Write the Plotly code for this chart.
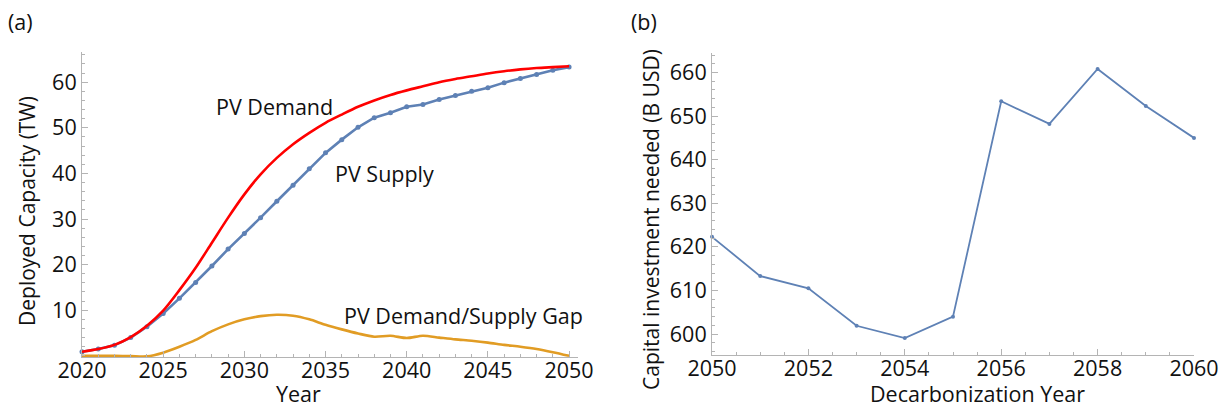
import plotly.graph_objects as go

# ---- Panel (a): PV deployment, 2020-2050 ----
years_a = list(range(2020, 2051))
pv_demand = [0.9, 1.5, 2.4, 4.1, 6.6, 9.9, 14.4, 19.3, 24.8, 30.3, 35.4, 39.8, 43.4,
             46.4, 48.9, 51.1, 52.9, 54.6, 56.0, 57.2, 58.2, 59.1, 60.0, 60.7, 61.3,
             61.9, 62.4, 62.8, 63.1, 63.3, 63.5]
pv_supply = [0.9, 1.5, 2.3, 4.0, 6.4, 9.3, 12.6, 16.1, 19.7, 23.4, 26.8, 30.3, 33.9,
             37.4, 41.0, 44.5, 47.4, 50.1, 52.2, 53.3, 54.6, 55.1, 56.2, 57.1, 58.0,
             58.8, 59.9, 60.8, 61.7, 62.6, 63.3]
pv_gap = [0.0, 0.0, 0.0, -0.05, -0.1, 0.7, 2.0, 3.5, 5.4, 6.9, 8.0, 8.7, 9.0, 8.8,
          8.0, 6.8, 5.8, 4.9, 4.2, 4.4, 3.9, 4.4, 4.0, 3.6, 3.3, 2.9, 2.4, 2.0,
          1.5, 0.8, 0.0]

# ---- Panel (b): capital investment by decarbonization year ----
years_b = list(range(2050, 2061))
capital_busd = [622.3, 613.3, 610.5, 601.9, 599.1, 604.0, 653.4, 648.2, 660.8,
                652.3, 645.0]

W, H = 1219, 407
FONT = "Open Sans"
FS = 21.5
TXT = "#111111"
AXC = "#b4b4b4"
BLUE = "#5e81b5"
RED = "#ff0000"
ORANGE = "#e19c24"

fig = go.Figure()

fig.add_trace(go.Scatter(x=years_a, y=pv_gap, mode="lines",
                         line=dict(color=ORANGE, width=2.6, shape="spline", smoothing=0.8),
                         cliponaxis=False, xaxis="x", yaxis="y"))
fig.add_trace(go.Scatter(x=years_a, y=pv_supply, mode="lines+markers",
                         line=dict(color=BLUE, width=2.6),
                         marker=dict(color=BLUE, size=5),
                         cliponaxis=False, xaxis="x", yaxis="y"))
fig.add_trace(go.Scatter(x=years_a, y=pv_demand, mode="lines",
                         line=dict(color=RED, width=2.6, shape="spline", smoothing=0.8),
                         cliponaxis=False, xaxis="x", yaxis="y"))

fig.add_trace(go.Scatter(x=years_b, y=capital_busd, mode="lines+markers",
                         line=dict(color=BLUE, width=1.8),
                         marker=dict(color=BLUE, size=4),
                         cliponaxis=False, xaxis="x2", yaxis="y2"))


def px_x(p):
    return p / W


def px_y(p):
    return 1 - p / H


axis_common = dict(showline=True, linecolor=AXC, linewidth=1, showgrid=False,
                   zeroline=False, ticks="inside", ticklen=6, tickcolor=AXC,
                   automargin=False,
                   tickfont=dict(family=FONT, size=FS, color=TXT))

fig.update_layout(
    width=W, height=H,
    margin=dict(l=0, r=0, t=0, b=0, pad=0, autoexpand=False),
    paper_bgcolor="white", plot_bgcolor="white",
    showlegend=False,
    font=dict(family=FONT, color=TXT),
    xaxis=dict(domain=[px_x(82), px_x(578)], range=[2020, 2050.55],
               tickvals=[2020, 2025, 2030, 2035, 2040, 2045, 2050],
               ticklabelstandoff=-6,
               minor=dict(ticks="inside", ticklen=3, dtick=1, tick0=2020, tickcolor=AXC),
               anchor="y", **axis_common),
    yaxis=dict(domain=[px_y(357.2), px_y(52.3)], range=[-0.3, 66.55],
               tickvals=[10, 20, 30, 40, 50, 60],
               minor=dict(ticks="inside", ticklen=3, dtick=2, tick0=0, tickcolor=AXC),
               anchor="x", **axis_common),
    xaxis2=dict(domain=[px_x(712), px_x(1194)], range=[2050, 2060],
                tickvals=[2050, 2052, 2054, 2056, 2058, 2060],
                ticklabelstandoff=-6,
                minor=dict(ticks="inside", ticklen=3, dtick=0.5, tick0=2050, tickcolor=AXC),
                anchor="y2", **axis_common),
    yaxis2=dict(domain=[px_y(355), px_y(53.3)], range=[595.2, 664.4],
                tickvals=[600, 610, 620, 630, 640, 650, 660],
                minor=dict(ticks="inside", ticklen=3, dtick=2, tick0=600, tickcolor=AXC),
                anchor="x2", **axis_common),
)


def label(text, x, y, size=FS, angle=0):
    fig.add_annotation(text=text, x=px_x(x), y=px_y(y), xref="paper", yref="paper",
                       showarrow=False, textangle=angle, xanchor="center", yanchor="middle",
                       font=dict(family=FONT, size=size, color=TXT))


# panel tags
label("(a)", 20, 21)
label("(b)", 644, 21)

# curve labels
label("PV Demand", 274, 106.5)
label("PV Supply", 384, 173)
label("PV Demand/Supply Gap", 464, 315)

# axis titles
label("Year", 298, 393)
label("Deployed Capacity (TW)", 27, 211, size=21, angle=-90)
label("Decarbonization Year", 977, 393)
label("Capital investment needed (B USD)", 651, 220, size=21, angle=-90)

fig.write_html("out.html")
